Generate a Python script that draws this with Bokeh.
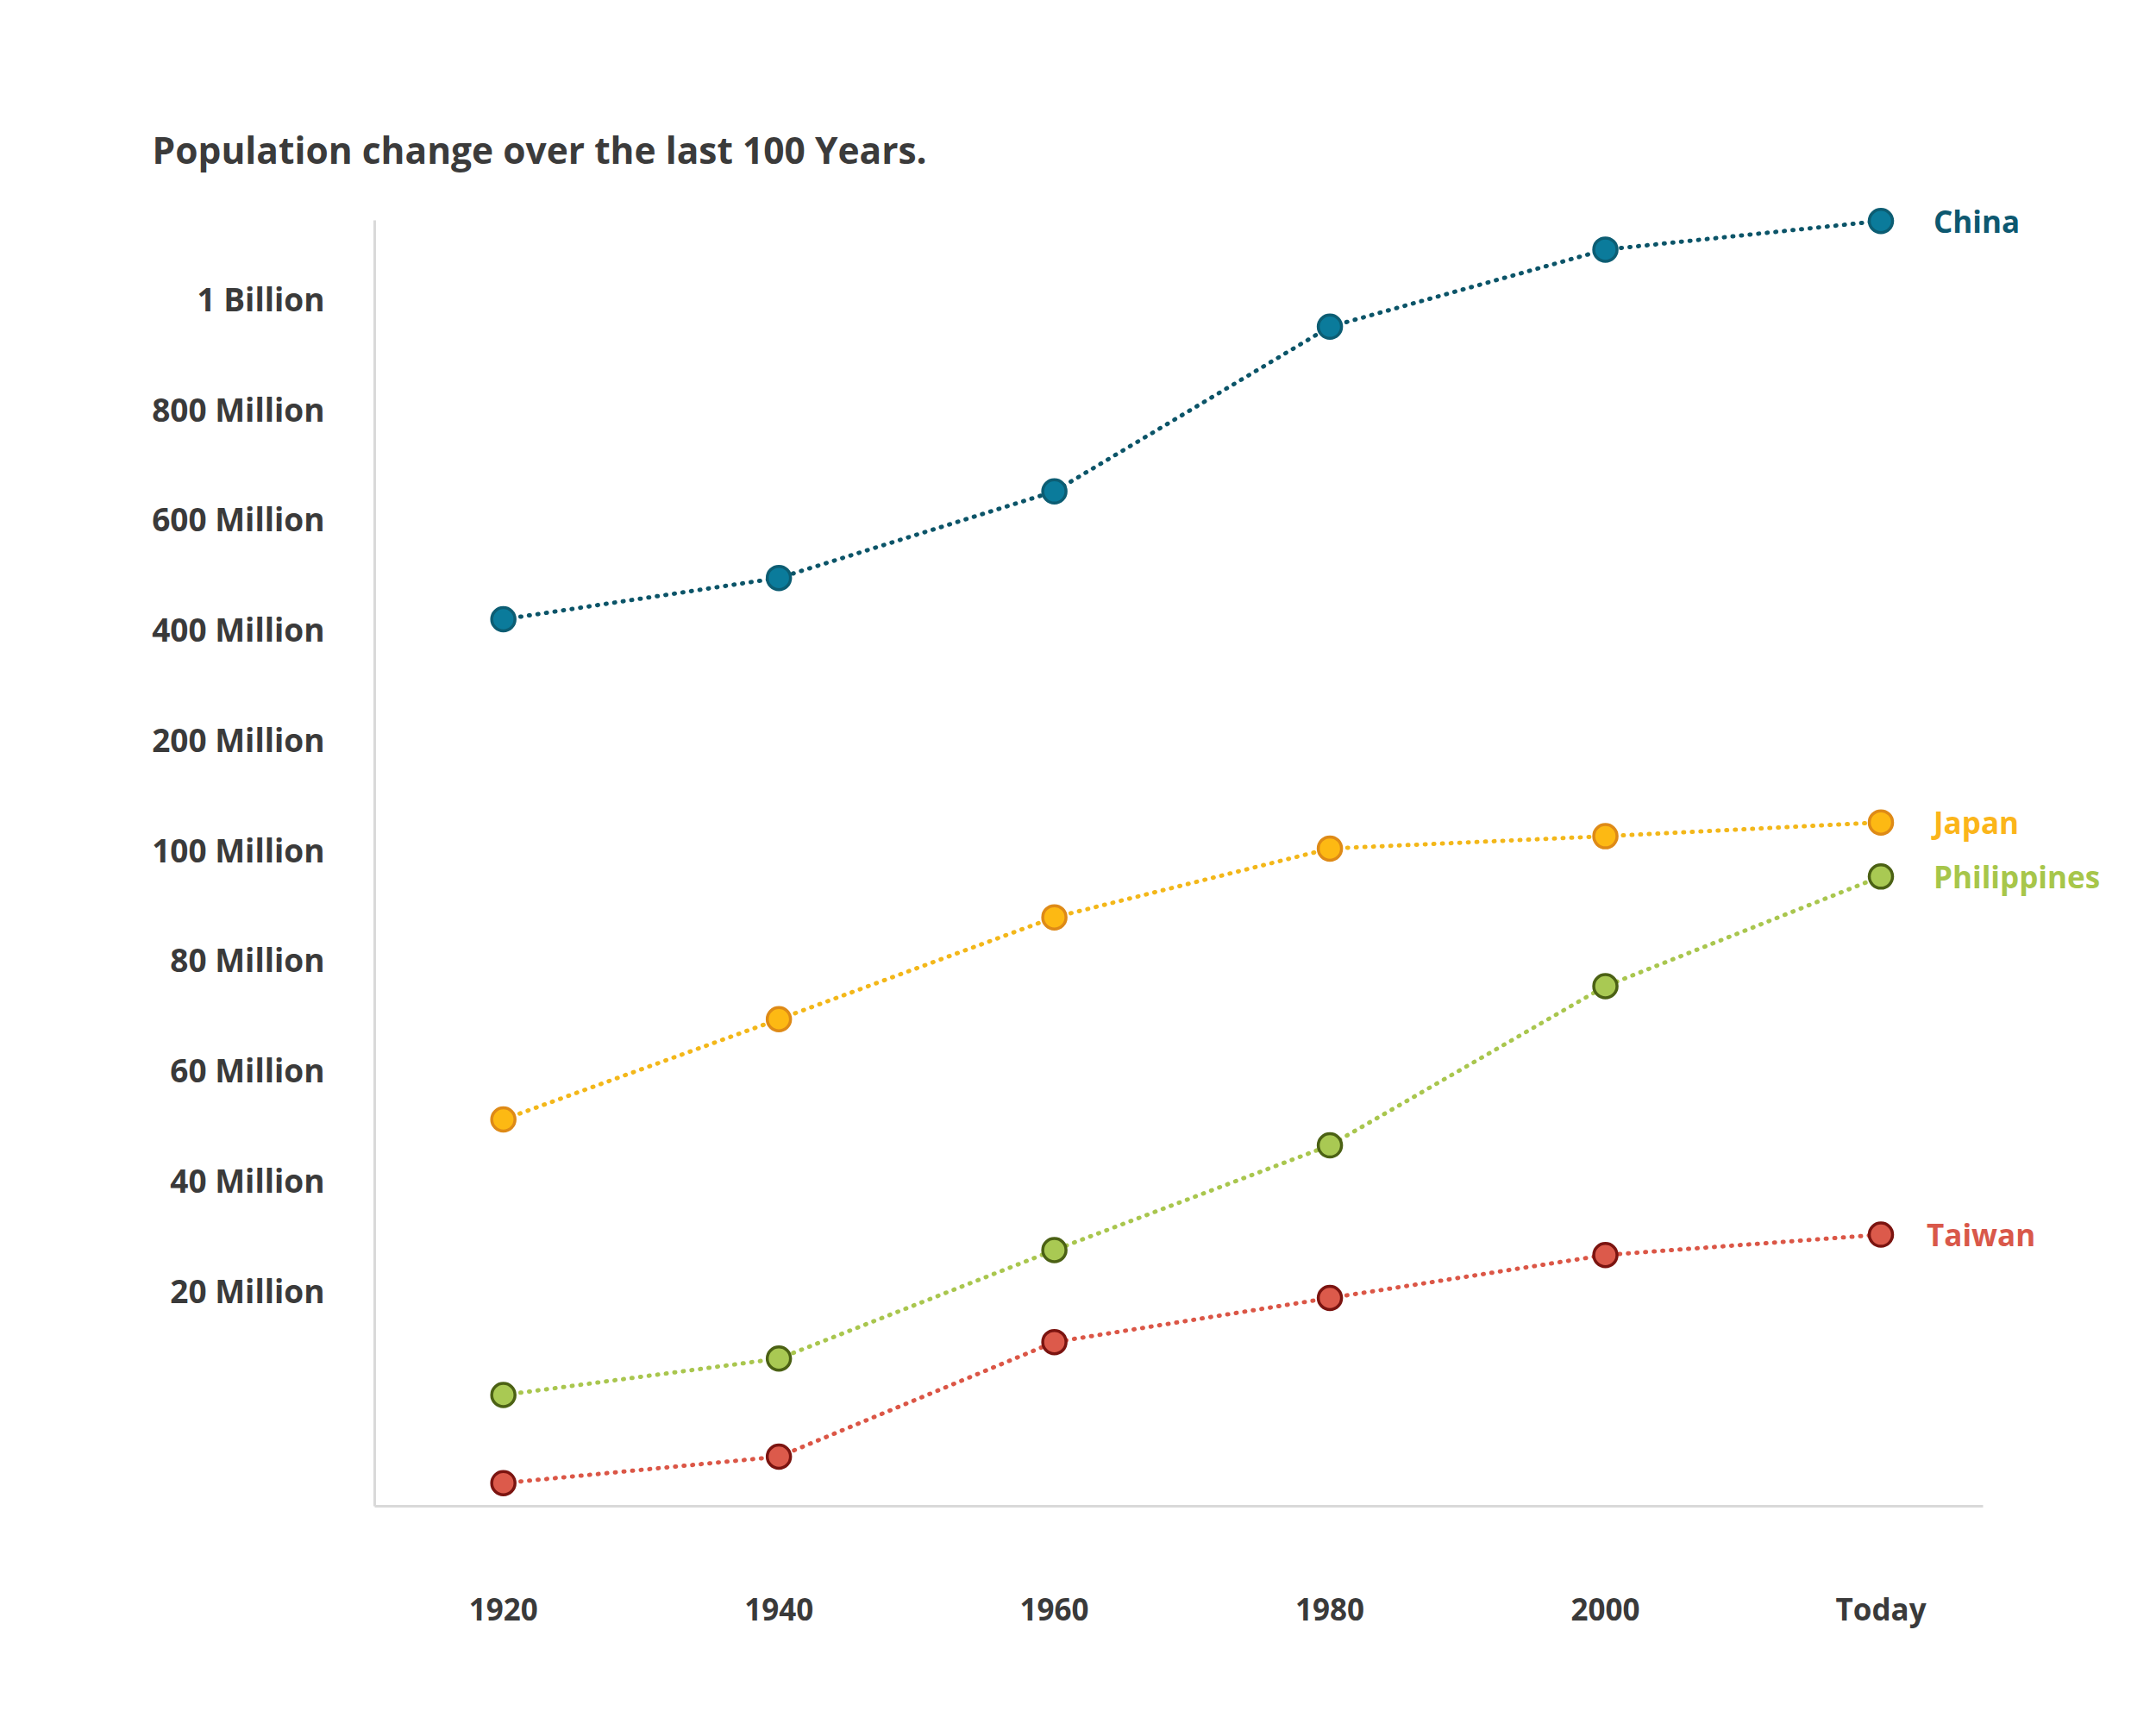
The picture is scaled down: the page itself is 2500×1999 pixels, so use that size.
from bokeh.plotting import figure
from bokeh.models import FixedTicker, ColumnDataSource, LabelSet, Range1d
from bokeh.embed import file_html
from bokeh.resources import INLINE
from bokeh.core.properties import value

# ---- data (population in millions) ----
years = ["1920", "1940", "1960", "1980", "2000", "Today"]
china = [418, 493, 650, 949, 1089, 1141]
japan = [51.0, 69.2, 87.7, 100.9, 112.1, 124.6]
philippines = [10.5, 13.8, 27.3, 46.3, 75.2, 95.1]
taiwan = [2.5, 4.9, 15.3, 19.3, 26.4, 30.1]

series_names = ["China", "Japan", "Philippines", "Taiwan"]
series_values = [china, japan, philippines, taiwan]

tick_values = [20, 40, 60, 80, 100, 200, 400, 600, 800, 1000]
tick_labels = ["20 Million", "40 Million", "60 Million", "80 Million", "100 Million",
               "200 Million", "400 Million", "600 Million", "800 Million", "1 Billion"]

# ---- styles ----
line_colors = ["#0b5468", "#f3b719", "#a9c64e", "#db5646"]
fill_colors = ["#0b7b9b", "#fdb913", "#a9c953", "#dc5a4b"]
edge_colors = ["#0c5d73", "#de8a17", "#4b6114", "#7b1410"]
label_colors = ["#0d5870", "#fbb51a", "#a7c64a", "#d9584a"]
label_offsets = [61, 61, 61, 53]
TEXT = "#3a3a3a"
FONT = "Open Sans"


def to_scale(v):
    """Piecewise (broken) value axis used by the reference chart."""
    if v <= 20:
        return -1 + v / 10.0
    if v <= 100:
        return v / 20.0
    if v <= 200:
        return 5 + (v - 100) / 100.0
    return 6 + (v - 200) / 200.0


xs = list(range(len(years)))

p = figure(width=2484, height=1983, output_backend="svg", toolbar_location=None,
           x_range=Range1d(-0.467, 5.95), y_range=Range1d(-0.96, 11.0),
           min_border_left=434, min_border_right=0,
           min_border_top=218, min_border_bottom=237,
           background_fill_color="white", border_fill_color="white")
p.grid.visible = False
p.outline_line_color = None

p.title.text = "Population change over the last 100 Years."
p.title.text_font = FONT
p.title.text_font_style = "bold"
p.title.text_font_size = "42.5px"
p.title.text_color = "#3b3b3b"
p.title.align = "left"
p.title.offset = -258
p.title.standoff = 33

# x axis
p.xaxis.ticker = FixedTicker(ticks=xs)
p.xaxis.major_label_overrides = {i: y for i, y in enumerate(years)}
p.xaxis.bounds = (-0.467, 5.37)
# y axis
yt = [int(round(to_scale(v))) for v in tick_values]
p.yaxis.ticker = FixedTicker(ticks=yt)
p.yaxis.major_label_overrides = {t: l for t, l in zip(yt, tick_labels)}
p.yaxis.bounds = (-0.96, 10.71)

for ax in (p.xaxis[0], p.yaxis[0]):
    ax.axis_line_color = "#d9d9d9"
    ax.axis_line_width = 3
    ax.major_tick_line_color = None
    ax.minor_tick_line_color = None
    ax.major_tick_out = 0
    ax.major_tick_in = 0
    ax.major_label_text_font = FONT
    ax.major_label_text_font_style = "bold"
    ax.major_label_text_color = TEXT
p.xaxis.major_label_text_font_size = "35px"
p.yaxis.major_label_text_font_size = "37px"
p.xaxis.major_label_standoff = 95
p.yaxis.major_label_standoff = 58

last_x, last_y, names, lcols = [], [], [], []
for name, vals, lc, fc, ec, tc in zip(series_names, series_values, line_colors,
                                      fill_colors, edge_colors, label_colors):
    ys = [to_scale(v) for v in vals]
    src = ColumnDataSource(dict(x=xs, y=ys))
    p.line("x", "y", source=src, line_color=lc, line_width=5,
           line_dash="1 9", line_cap="round")
    p.scatter("x", "y", source=src, size=27, fill_color=fc,
              line_color=ec, line_width=3.5)
    last_x.append(xs[-1])
    last_y.append(ys[-1])
    names.append(name)
    lcols.append(tc)

lab_src = ColumnDataSource(dict(x=last_x, y=last_y, text=names, color=lcols,
                                dx=label_offsets))
labels = LabelSet(x="x", y="y", text="text", source=lab_src, x_offset="dx",
                  text_color="color", text_font=value(FONT), text_font_style="bold",
                  text_font_size="35px", text_baseline="middle", text_align="left")
p.add_layout(labels)

open("out.html", "w").write(file_html(p, INLINE))
